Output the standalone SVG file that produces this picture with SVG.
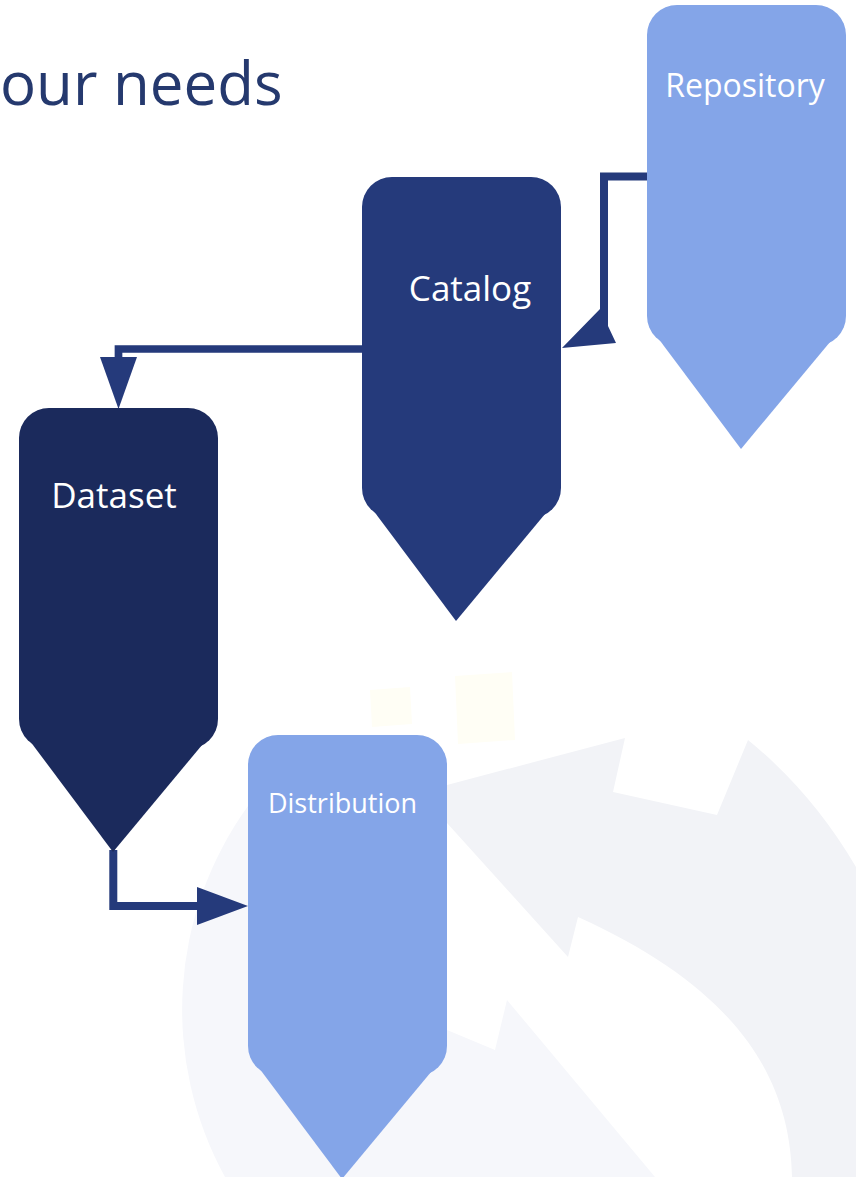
<svg xmlns="http://www.w3.org/2000/svg" xmlns:xlink="http://www.w3.org/1999/xlink" width="856" height="1177" viewBox="0 0 856 1177">
  <style>
    .label { font-family: "Open Sans", "Noto Sans", "Liberation Sans", sans-serif; fill: #ffffff; text-anchor: middle; }
    .title { font-family: "Open Sans", "Noto Sans", "Liberation Sans", sans-serif; fill: #25396e; font-size: 60px; text-anchor: start; }
    .light { fill: #84a5e8; }
    .mid { fill: #253a7b; }
    .dark { fill: #1b2a5c; }
    .wire { fill: none; stroke: #253a7b; stroke-width: 8; stroke-linejoin: miter; stroke-linecap: butt; }
    .head { fill: #253a7b; }
  </style>
  <defs>
    <!-- rounded box with a downward point, 199 wide -->
    <g id="pin">
      <rect x="0" y="0" width="199" height="341" rx="30" ry="30"/>
      <polygon points="5,325 193,325 94,444"/>
    </g>
  </defs>

  <rect width="856" height="1177" fill="#ffffff"/>

  <!-- faint circular-arrows watermark -->
  <g id="watermark">
    <path fill="#f2f3f7" d="M447,823 L447,785 L625,738 L613,792 L717,815 L748,740 Q812,792 856,867 L856,1177 L792,1177 C790,1080 740,990 578,917 L568,957 Z"/>
    <path fill="#f6f7fb" d="M447,1030 L495,1050 L507,1000 L655,1177 L225,1177 A348,348 0 0 1 248,806 L447,806 Z"/>
    <polygon fill="#fffef5" points="455,676 512,672 515,740 458,744"/>
    <polygon fill="#fffef5" points="370,690 410,687 412,724 372,727"/>
  </g>

  <text class="title" x="0" y="105">our needs</text>

  <!-- connectors -->
  <g id="connectors">
    <!-- Repository to Catalog -->
    <path class="wire" d="M647,176.5 H604 V304"/>
    <polygon class="head" points="600,300 608,300 608,326 616,343 562,348 600,309"/>
    <!-- Catalog to Dataset -->
    <path class="wire" d="M363,349 H118.5 V360" style="stroke-width:7.7"/>
    <polygon class="head" points="100,357 137,357 118.5,409"/>
    <!-- Dataset to Distribution -->
    <path class="wire" d="M113.3,850 V906 H200"/>
    <polygon class="head" points="197,887 197,925 248,906"/>
  </g>

  <g id="repository">
    <use xlink:href="#pin" href="#pin" class="light" transform="translate(647,5)"/>
    <text class="label" x="745" y="97" font-size="32">Repository</text>
  </g>

  <g id="catalog">
    <use xlink:href="#pin" href="#pin" class="mid" transform="translate(362,177)"/>
    <text class="label" x="470" y="301" font-size="35">Catalog</text>
  </g>

  <g id="dataset">
    <use xlink:href="#pin" href="#pin" class="dark" transform="translate(19,408)"/>
    <text class="label" x="114" y="508" font-size="35">Dataset</text>
  </g>

  <g id="distribution">
    <use xlink:href="#pin" href="#pin" class="light" transform="translate(248,735)"/>
    <text class="label" x="342.5" y="813" font-size="27">Distribution</text>
  </g>
</svg>
